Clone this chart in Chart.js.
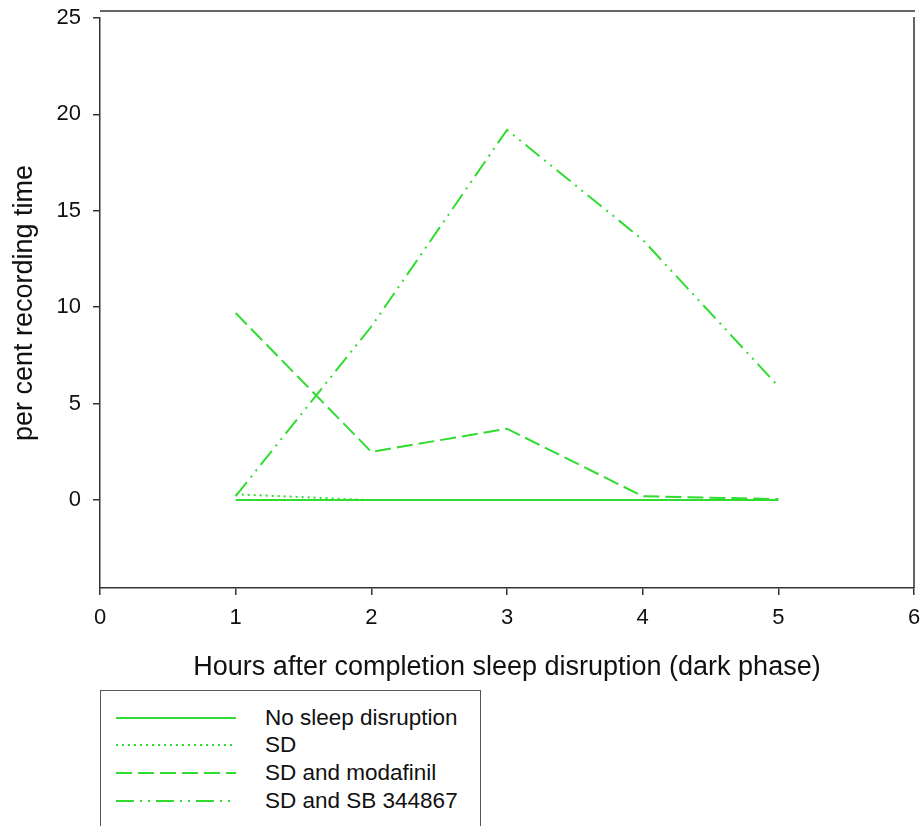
<!DOCTYPE html>
<html><head><meta charset="utf-8">
<script src="https://cdn.jsdelivr.net/npm/chart.js@4/dist/chart.umd.min.js"></script>
<style>
html,body{margin:0;padding:0;background:#fff;}
#wrap{position:relative;width:921px;height:826px;overflow:hidden;background:#fff;}
#c{position:absolute;left:0;top:0;}
#legend{position:absolute;left:100px;top:690px;width:381px;height:150px;border:1.5px solid #555;box-sizing:border-box;font-family:"Liberation Sans",Arial,sans-serif;font-size:22.5px;color:#111;}
.item{position:absolute;left:0;width:100%;height:28px;}
.item svg{position:absolute;left:15px;top:0;}
.item span{position:absolute;left:164px;top:0;line-height:28px;white-space:nowrap;}
</style></head>
<body><div id="wrap"><canvas id="c" width="921" height="690"></canvas><div id="legend"></div></div>
<script>
const hours = [1, 2, 3, 4, 5];
const seriesNames = ['No sleep disruption', 'SD', 'SD and modafinil', 'SD and SB 344867'];
const noSleepDisruption = [0, 0, 0, 0, 0];
const sdOnly = [0.3, 0, 0, 0, 0];
const sdModafinil = [9.7, 2.5, 3.7, 0.2, 0.05];
const sdSB344867 = [0.2, 9.0, 19.2, 13.5, 5.9];
const xTicks = [0, 1, 2, 3, 4, 5, 6];
const yTicks = [0, 5, 10, 15, 20, 25];

const seriesValues = [noSleepDisruption, sdOnly, sdModafinil, sdSB344867];
const dashes = [[], [2, 4], [16, 6], [18, 6, 2, 6, 2, 6]];
const green = '#2fdc2f';
const font = '"Liberation Sans", Arial, sans-serif';

const datasets = seriesNames.map((name, i) => ({
  label: name,
  data: hours.map((h, j) => ({x: h, y: seriesValues[i][j]})),
  borderColor: green,
  borderWidth: 2,
  borderDash: dashes[i],
  pointRadius: 0,
  fill: false,
  tension: 0
}));

const framePlugin = {
  id: 'frame',
  afterDraw(chart) {
    const {ctx, chartArea: {left, right, top, bottom}} = chart;
    ctx.save();
    ctx.strokeStyle = '#333';
    ctx.lineWidth = 1.5;
    ctx.beginPath();
    ctx.moveTo(left, top - 7); ctx.lineTo(right + 1, top - 7);
    ctx.moveTo(right, top - 1); ctx.lineTo(right, bottom);
    ctx.stroke();
    ctx.restore();
  }
};

new Chart(document.getElementById('c'), {
  type: 'line',
  data: {datasets},
  options: {
    responsive: false,
    animation: false,
    devicePixelRatio: 1,
    layout: {padding: {left: 0, right: 7, top: 18, bottom: 0}},
    plugins: {legend: {display: false}, tooltip: {enabled: false}},
    scales: {
      x: {
        type: 'linear', min: 0, max: 6,
        afterBuildTicks: s => { s.ticks = xTicks.map(v => ({value: v})); },
        afterFit: s => { s.height = 102; s.paddingLeft = 0; s.paddingRight = 0; },
        grid: {drawOnChartArea: false, tickLength: 7, color: '#333', lineWidth: 1.5},
        border: {color: '#333', width: 1.5},
        ticks: {font: {family: font, size: 22}, color: '#111', padding: 10, maxRotation: 0, autoSkip: false},
        title: {display: true, text: 'Hours after completion sleep disruption (dark phase)', font: {family: font, size: 27}, color: '#111', padding: {top: 0, bottom: 6}}
      },
      y: {
        type: 'linear', min: -4.56, max: 25,
        afterBuildTicks: s => { s.ticks = yTicks.map(v => ({value: v})); },
        afterFit: s => { s.width = 100; s.paddingTop = 0; s.paddingBottom = 0; },
        grid: {drawOnChartArea: false, tickLength: 7, color: '#333', lineWidth: 1.5},
        border: {color: '#333', width: 1.5},
        ticks: {font: {family: font, size: 22}, color: '#111', padding: 12, autoSkip: false},
        title: {display: true, text: 'per cent recording time', font: {family: font, size: 27}, color: '#111', padding: {top: 8, bottom: 0}}
      }
    }
  },
  plugins: [framePlugin]
});

const legend = document.getElementById('legend');
const centers = [27, 54, 82, 110];
seriesNames.forEach((name, i) => {
  const d = document.createElement('div');
  d.className = 'item';
  d.style.top = (centers[i] - 14) + 'px';
  const dash = dashes[i].length ? dashes[i].join(' ') : 'none';
  d.innerHTML = '<svg width="120" height="28"><line x1="0" y1="14" x2="120" y2="14" stroke="' + green + '" stroke-width="2" stroke-dasharray="' + dash + '"/></svg><span></span>';
  d.querySelector('span').textContent = name;
  legend.appendChild(d);
});
</script></body></html>
